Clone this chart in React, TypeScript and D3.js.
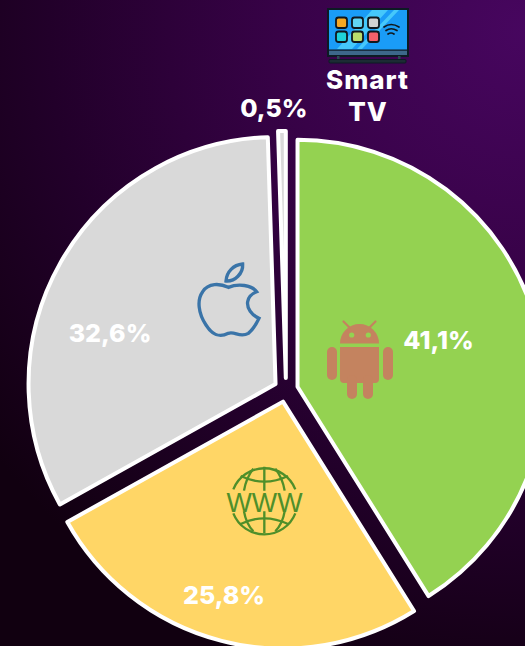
import * as React from "react"
import * as d3 from "d3"

const categories = ["Android", "Web", "iOS", "Smart TV"]
const shares = [41.1, 25.8, 32.6, 0.5]
const shareLabels = ["41,1%", "25,8%", "32,6%", "0,5%"]
const sliceColors = ["#94d251", "#ffd666", "#d9d9d9", "#d9d9d9"]

const width = 525
const height = 646
const cx = 286
const cy = 390
const radius = 247
const explode = 12
const font = "Inter, 'Open Sans', sans-serif"

// where each percentage sits, relative to the apex of its slice
const labelOffsets = [
    [141, -47],
    [-59, 193],
    [-165.5, -51],
    [-12, -270],
]

function TvIcon() {
    const buttons = ["#f7a823", "#62d6f5", "#d2d2d2", "#1fd2d8", "#b9dc6c", "#f5616a"]
    return (
        <g>
            <rect x={328} y={9} width={80} height={47} fill="#1a9cf7" stroke="#0d1a24" strokeWidth={2} />
            <path d="M372 10 L388 10 L352 49 L337 49 Z M394 10 L399 10 L362 49 L357 49 Z" fill="#45c8fb" />
            <rect x={329} y={50} width={78} height={5} fill="#3d678a" />
            <rect x={329} y={49.5} width={78} height={1.2} fill="#0d1a24" />
            <rect x={337} y={56} width={2.5} height={4} fill="#2a4a52" />
            <rect x={398} y={56} width={2.5} height={4} fill="#2a4a52" />
            <rect x={329} y={59.5} width={77} height={3.5} rx={1} fill="#1c2c34" stroke="#0d1a24" />
            {buttons.map((c, i) => (
                <rect key={i} x={336 + (i % 3) * 16} y={17.5 + Math.floor(i / 3) * 14} width={11} height={10.5} rx={2.5} fill={c} stroke="#10181e" strokeWidth={1.8} />
            ))}
            <g fill="none" stroke="#10181e" strokeWidth={1.7} strokeLinecap="round">
                <path d="M384 27 Q391 22 399 27" />
                <path d="M386 30.5 Q391 27 397 30.5" />
                <path d="M388 34 Q391 32 394 34" />
            </g>
        </g>
    )
}

function AndroidIcon() {
    const c = "#c4835f"
    return (
        <g fill={c}>
            <path d="M340 343.5 A19.5 19.5 0 0 1 379 343.5 Z" />
            <path d="M350 328 L343.5 321.5 M369 328 L375.5 321.5" stroke={c} strokeWidth={2.2} strokeLinecap="round" />
            <circle cx={351.7} cy={335} r={2.6} fill="#94d251" />
            <circle cx={368.3} cy={335} r={2.6} fill="#94d251" />
            <path d="M340 347 H379 V379 Q379 383 375 383 H344 Q340 383 340 379 Z" />
            <rect x={327} y={347} width={10} height={33} rx={5} />
            <rect x={383} y={347} width={10} height={33} rx={5} />
            <rect x={347} y={375} width={10} height={24} rx={5} />
            <rect x={363} y={375} width={10} height={24} rx={5} />
        </g>
    )
}

function AppleIcon() {
    return (
        <g transform="translate(180,250) scale(0.3333)" fill="none" stroke="#3a74a8" strokeWidth={10}>
            <path d="M145 112 C120 100 85 98 68 125 C50 150 55 190 78 225 C95 252 115 265 145 250 C165 243 180 265 205 250 C220 238 230 220 237 205 C215 195 200 175 203 155 C205 140 218 130 230 125 C215 105 175 100 145 112 Z" />
            <path d="M138 93 C140 65 160 45 188 42 C190 70 165 95 138 93 Z" />
        </g>
    )
}

function GlobeIcon() {
    const c = "#4f8f2a"
    return (
        <g>
            <g transform="translate(170,450) scale(0.3333)" fill="none" stroke={c} strokeWidth={7}>
                <path d="M190 118 A100 100 0 0 1 376 118" />
                <path d="M190 190 A100 100 0 0 0 376 190" />
                <path d="M212 78 Q283 112 354 78" />
                <path d="M212 222 Q283 188 354 222" />
                <path d="M283 50 V122 M283 184 V250" />
                <path d="M250 56 Q228 85 222 122 M316 56 Q338 85 344 122" />
                <path d="M222 184 Q228 220 250 244 M344 184 Q338 220 316 244" />
            </g>
            <text x={264.5} y={511.5} textAnchor="middle" fontFamily="'Liberation Sans', sans-serif" fontSize={27} textLength={76} lengthAdjust="spacingAndGlyphs" fill={c}>WWW</text>
        </g>
    )
}

function App() {
    const slices = d3.pie<number>().sort(null)(shares)
    const arc = d3.arc<d3.PieArcDatum<number>>().innerRadius(0).outerRadius(radius)

    // every slice is pushed out along its middle angle
    const apex = (s: d3.PieArcDatum<number>) => {
        const mid = (s.startAngle + s.endAngle) / 2
        return [cx + explode * Math.sin(mid), cy - explode * Math.cos(mid)]
    }

    return (
        <svg width={width} height={height} style={{ position: "absolute", left: 0, top: 0 }}>
            <defs>
                <radialGradient id="bg" gradientUnits="userSpaceOnUse" cx={525} cy={30} r={680}>
                    <stop offset="0" stopColor="#47065f" />
                    <stop offset="0.35" stopColor="#380248" />
                    <stop offset="0.7" stopColor="#22002a" />
                    <stop offset="1" stopColor="#110010" />
                </radialGradient>
            </defs>
            <rect width={width} height={height} fill="url(#bg)" />
            {slices.map((s, i) => {
                const [x, y] = apex(s)
                return (
                    <path
                        key={categories[i]}
                        d={arc(s) as string}
                        transform={`translate(${x},${y})`}
                        fill={sliceColors[i]}
                        stroke="#fff"
                        strokeWidth={4}
                        strokeLinejoin="round"
                    />
                )
            })}
            <AndroidIcon />
            <AppleIcon />
            <GlobeIcon />
            <TvIcon />
            {slices.map((s, i) => {
                const [x, y] = apex(s)
                return (
                    <text
                        key={shareLabels[i]}
                        x={x + labelOffsets[i][0]}
                        y={y + labelOffsets[i][1] + 9}
                        textAnchor="middle"
                        fontFamily={font}
                        fontWeight={800}
                        fontSize={25}
                        fill="#fff"
                    >
                        {shareLabels[i]}
                    </text>
                )
            })}
            <text textAnchor="middle" fontFamily={font} fontWeight={800} fontSize={26} letterSpacing={1} fill="#fff">
                <tspan x={367.5} y={89}>Smart</tspan>
                <tspan x={368} y={121}>TV</tspan>
            </text>
        </svg>
    )
}

export default App
